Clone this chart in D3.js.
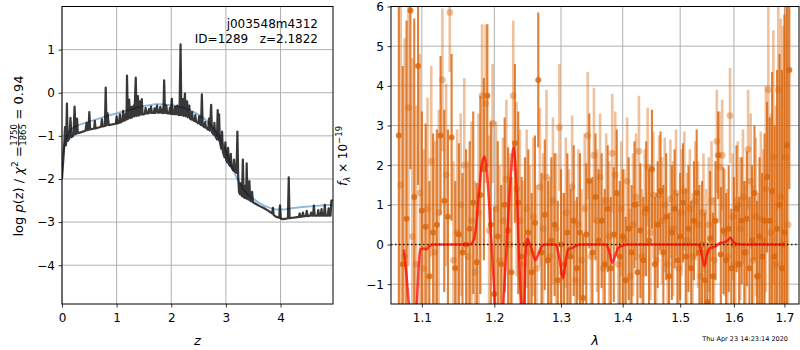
<!DOCTYPE html>
<html>
<head>
<meta charset="utf-8">
<script src="https://cdn.jsdelivr.net/npm/d3@7"></script>
<style>
  body { margin: 0; background: #fff; }
  svg text { font-family: "DejaVu Sans", sans-serif; }
</style>
</head>
<body>
<svg id="fig" width="800" height="350"></svg>
<script>
// ---------- redshift probability: [z, log p(z)] ----------
const pzCurve = [[0.00,-2.00],[0.02,-1.62],[0.035,-1.35],[0.055,-0.80],[0.07,-1.22],[0.075,-1.18],[0.09,-0.25],[0.105,-1.12],[0.135,-1.06],[0.155,-0.58],[0.175,-1.03],[0.21,-0.99],[0.23,-0.32],[0.25,-0.96],[0.26,-0.95],[0.275,-0.60],[0.29,-0.94],[0.34,-0.92],[0.43,-0.88],[0.45,-0.70],[0.47,-0.87],[0.485,-0.86],[0.50,-0.45],[0.515,-0.85],[0.59,-0.83],[0.60,-0.65],[0.615,-0.83],[0.715,-0.79],[0.73,-0.62],[0.745,-0.78],[0.785,-0.77],[0.80,0.12],[0.815,-0.76],[0.835,-0.48],[0.855,-0.75],[0.985,-0.72],[1.00,-0.55],[1.015,-0.71],[1.045,-0.70],[1.06,-0.50],[1.075,-0.69],[1.105,-0.66],[1.12,-0.42],[1.135,-0.65],[1.155,-0.64],[1.17,-0.48],[1.18,-0.62],[1.19,0.40],[1.205,-0.61],[1.23,-0.16],[1.245,-0.59],[1.255,-0.58],[1.27,-0.33],[1.285,-0.57],[1.31,-0.30],[1.325,-0.55],[1.35,0.35],[1.365,-0.54],[1.39,-0.08],[1.405,-0.53],[1.43,-0.20],[1.445,-0.51],[1.46,-0.15],[1.475,-0.50],[1.50,-0.50],[1.515,-0.49],[1.53,-0.35],[1.545,-0.48],[1.575,-0.48],[1.59,-0.38],[1.605,-0.47],[1.63,-0.32],[1.645,-0.47],[1.68,-0.47],[1.695,-0.36],[1.71,-0.47],[1.74,-0.30],[1.755,-0.46],[1.785,-0.46],[1.80,-0.33],[1.815,-0.46],[1.835,-0.47],[1.85,-0.36],[1.855,-0.47],[1.87,0.29],[1.885,-0.47],[1.91,-0.30],[1.925,-0.48],[1.96,-0.48],[1.975,-0.35],[1.99,-0.49],[2.01,-0.14],[2.025,-0.49],[2.05,-0.50],[2.07,-0.32],[2.085,-0.50],[2.11,-0.30],[2.125,-0.51],[2.15,-0.52],[2.17,1.12],[2.185,-0.52],[2.21,-0.15],[2.225,-0.54],[2.25,-0.02],[2.265,-0.55],[2.29,-0.20],[2.305,-0.57],[2.33,-0.30],[2.345,-0.60],[2.365,-0.62],[2.38,-0.45],[2.395,-0.63],[2.425,-0.66],[2.44,-0.52],[2.455,-0.67],[2.495,-0.71],[2.51,-0.55],[2.525,-0.72],[2.545,-0.75],[2.56,-0.04],[2.575,-0.76],[2.605,-0.80],[2.62,-0.68],[2.635,-0.81],[2.675,-0.86],[2.69,-0.60],[2.705,-0.88],[2.73,-0.28],[2.745,-0.92],[2.775,-0.97],[2.79,-0.70],[2.805,-1.00],[2.835,-1.08],[2.85,-0.40],[2.865,-1.10],[2.875,-0.50],[2.89,-1.15],[2.915,-1.30],[2.93,-0.90],[2.945,-1.38],[2.975,-1.50],[2.99,-1.15],[3.005,-1.55],[3.025,-1.62],[3.04,-1.28],[3.055,-1.66],[3.075,-1.70],[3.09,-1.42],[3.105,-1.74],[3.135,-1.80],[3.15,-1.55],[3.165,-1.82],[3.195,-1.86],[3.21,-0.90],[3.225,-1.95],[3.24,-2.30],[3.255,-2.35],[3.27,-2.10],[3.285,-2.38],[3.295,-2.40],[3.31,-1.55],[3.325,-2.42],[3.345,-2.44],[3.36,-2.15],[3.37,-2.45],[3.38,-1.64],[3.395,-2.46],[3.415,-2.48],[3.43,-2.05],[3.445,-2.50],[3.465,-2.52],[3.48,-2.30],[3.495,-2.54],[3.55,-2.58],[3.62,-2.63],[3.70,-2.68],[3.78,-2.74],[3.845,-2.80],[3.86,-2.67],[3.875,-2.84],[3.92,-2.88],[3.975,-2.90],[3.99,-2.61],[4.005,-2.92],[4.05,-2.93],[4.10,-2.92],[4.135,-2.91],[4.15,-1.96],[4.165,-2.91],[4.22,-2.90],[4.28,-2.89],[4.335,-2.88],[4.35,-2.80],[4.365,-2.88],[4.395,-2.87],[4.41,-2.78],[4.425,-2.87],[4.465,-2.86],[4.48,-2.74],[4.495,-2.86],[4.545,-2.85],[4.56,-2.78],[4.575,-2.85],[4.595,-2.85],[4.61,-2.62],[4.625,-2.85],[4.675,-2.85],[4.69,-2.72],[4.705,-2.85],[4.735,-2.85],[4.75,-2.70],[4.765,-2.85],[4.795,-2.85],[4.81,-2.60],[4.825,-2.85],[4.865,-2.85],[4.88,-2.68],[4.895,-2.85],[4.915,-2.85],[4.93,-2.50],[4.96,-2.50]];

// smooth template-averaged curve
const smoothZ = [0.00,0.03,0.06,0.10,0.15,0.20,0.30,0.40,0.50,0.60,0.70,0.80,0.90,1.00,1.10,1.20,1.30,1.40,1.50,1.60,1.70,1.80,1.90,2.00,2.10,2.20,2.30,2.40,2.50,2.60,2.70,2.80,2.90,3.00,3.10,3.20,3.30,3.40,3.50,3.60,3.70,3.80,3.90,4.00,4.10,4.20,4.40,4.60,4.80,4.96];
const smoothLog = [-1.55,-1.30,-1.12,-0.98,-0.88,-0.82,-0.75,-0.71,-0.67,-0.63,-0.59,-0.55,-0.51,-0.48,-0.44,-0.41,-0.37,-0.34,-0.31,-0.29,-0.27,-0.27,-0.28,-0.29,-0.31,-0.34,-0.38,-0.44,-0.51,-0.60,-0.72,-0.87,-1.08,-1.35,-1.70,-1.98,-2.20,-2.36,-2.46,-2.55,-2.62,-2.67,-2.70,-2.71,-2.70,-2.68,-2.65,-2.63,-2.61,-2.60];

// ---------- spectrum, first orientation ----------
const waveA = [1.070,1.075,1.080,1.085,1.090,1.095,1.100,1.105,1.110,1.115,1.120,1.125,1.130,1.135,1.140,1.145,1.150,1.155,1.160,1.165,1.170,1.175,1.180,1.185,1.190,1.195,1.200,1.205,1.210,1.215,1.220,1.225,1.230,1.235,1.240,1.245,1.250,1.255,1.260,1.265,1.270,1.275,1.280,1.285,1.290,1.295,1.300,1.305,1.310,1.315,1.320,1.325,1.330,1.335,1.340,1.345,1.350,1.355,1.360,1.365,1.370,1.375,1.380,1.385,1.390,1.395,1.400,1.405,1.410,1.415,1.420,1.425,1.430,1.435,1.440,1.445,1.450,1.455,1.460,1.465,1.470,1.475,1.480,1.485,1.490,1.495,1.500,1.505,1.510,1.515,1.520,1.525,1.530,1.535,1.540,1.545,1.550,1.555,1.560,1.565,1.570,1.575,1.580,1.585,1.590,1.595,1.600,1.605,1.610,1.615,1.620,1.625,1.630,1.635,1.640,1.645,1.650,1.655,1.660,1.665,1.670,1.675,1.680,1.685,1.690,1.695,1.700,1.705,1.710];
const fluxA = [2.75,-0.5,0.65,5.9,1.2,4.5,0.85,0.45,-0.8,0.3,
  0.5,2.75,1.1,0.7,2.7,-0.6,0.25,-0.2,0.0,0.4,
  1.05,-0.45,1.25,1.9,3.75,0.5,-1.25,0.2,-0.5,1.0,
  0.35,-0.7,2.55,1.05,-0.3,0.0,0.3,-0.7,0.55,4.15,
  -0.2,0.75,-0.4,0.1,0.5,-0.9,0.0,-0.5,0.3,-0.3,
  0.6,-0.6,0.3,-1.35,0.25,1.6,-0.2,1.2,0.1,0.6,
  -0.5,0.9,-0.6,0.25,1.3,-0.3,0.2,-0.9,0.4,-0.2,
  1.0,-0.7,0.35,-0.4,0.9,0.1,1.9,-0.5,0.5,1.35,
  -0.2,0.7,-0.8,0.3,0.9,-0.4,0.2,1.05,-0.3,0.4,
  -0.6,0.6,1.3,-0.2,0.0,-0.9,-1.45,0.15,-0.8,0.6,
  2.25,-0.25,0.35,-0.4,0.4,-0.6,0.0,0.9,-0.5,0.6,
  -0.2,0.65,-0.6,0.1,1.3,-0.8,0.2,-0.3,0.6,1.7,
  0.6,1.35,-0.3,0.4,1.0,-0.6,0.3,2.5,4.4];
const errA = [6,5,5,4,4.5,3,2.5,2.6,2.4,2.5,
  2.4,2,2.3,2.2,2.1,2.2,2.3,2.0,2.4,2.2,
  2.3,2.0,2.5,2.3,1.8,2.6,2.2,2.4,2.0,2.2,
  2.1,2.4,2.0,2.3,2.0,2.2,2.1,2.0,2.2,1.7,
  2.0,1.9,2.0,2.1,1.8,2.0,1.9,1.8,2.0,1.7,
  1.9,1.8,2.0,1.6,1.8,1.7,1.9,1.6,1.8,1.7,
  1.9,1.6,1.8,1.7,1.6,1.9,1.7,1.6,1.8,1.7,
  1.6,1.8,1.7,1.6,1.7,1.8,1.5,1.7,1.6,1.5,
  1.7,1.6,1.6,1.7,1.5,1.7,1.6,1.5,1.7,1.6,
  1.7,1.5,1.6,1.7,1.6,1.7,1.5,1.7,1.6,1.5,
  1.1,1.7,1.6,1.7,1.6,1.5,1.7,1.6,1.7,1.6,
  1.8,1.7,1.8,1.9,1.7,1.9,2.0,2.1,2.2,1.9,
  2.6,3.0,3.3,4.0,3.8,5.0,5.5,4.5,3.0];

// ---------- spectrum, second orientation ----------
const waveB = [1.0725,1.0775,1.0825,1.0875,1.0925,1.0975,1.1025,1.1075,1.1125,1.1175,1.1225,1.1275,1.1325,1.1375,1.1425,1.1475,1.1525,1.1575,1.1625,1.1675,1.1725,1.1775,1.1825,1.1875,1.1925,1.1975,1.2025,1.2075,1.2125,1.2175,1.2225,1.2275,1.2325,1.2375,1.2425,1.2475,1.2525,1.2575,1.2625,1.2675,1.2725,1.2775,1.2825,1.2875,1.2925,1.2975,1.3025,1.3075,1.3125,1.3175,1.3225,1.3275,1.3325,1.3375,1.3425,1.3475,1.3525,1.3575,1.3625,1.3675,1.3725,1.3775,1.3825,1.3875,1.3925,1.3975,1.4025,1.4075,1.4125,1.4175,1.4225,1.4275,1.4325,1.4375,1.4425,1.4475,1.4525,1.4575,1.4625,1.4675,1.4725,1.4775,1.4825,1.4875,1.4925,1.4975,1.5025,1.5075,1.5125,1.5175,1.5225,1.5275,1.5325,1.5375,1.5425,1.5475,1.5525,1.5575,1.5625,1.5675,1.5725,1.5775,1.5825,1.5875,1.5925,1.5975,1.6025,1.6075,1.6125,1.6175,1.6225,1.6275,1.6325,1.6375,1.6425,1.6475,1.6525,1.6575,1.6625,1.6675,1.6725,1.6775,1.6825,1.6875,1.6925,1.6975,1.7025,1.7075];
const fluxB = [1.5,-0.3,3.45,0.2,-0.5,1.3,-0.6,0.9,2.1,-0.2,
  0.8,4.15,1.75,5.85,-0.4,0.3,1.0,2.0,-0.3,0.6,
  -0.7,0.8,3.75,3.55,0.35,3.05,0.9,-0.4,0.6,1.65,
  0.0,3.75,1.4,0.6,-0.5,0.9,-0.2,0.7,-0.6,1.45,
  0.4,1.7,-0.3,1.1,0.4,2.95,-0.7,0.8,-0.2,1.45,
  -0.9,0.5,-0.4,0.9,2.75,-0.3,2.25,0.6,1.7,-0.6,
  1.1,0.2,2.3,1.75,-0.5,0.9,0.1,1.6,-0.8,0.5,
  1.2,2.35,-0.3,0.8,1.95,0.3,1.25,-0.4,1.25,0.6,
  1.0,-0.5,1.15,0.4,1.3,-0.6,0.8,1.35,0.1,0.9,
  -0.3,1.1,0.5,-0.8,0.8,-0.2,0.5,1.1,-0.4,2.6,
  1.95,2.25,0.3,-0.3,3.25,0.7,-0.5,1.0,0.4,1.2,
  -0.2,2.4,1.6,-0.4,0.7,-0.8,0.65,0.1,1.4,3.9,
  0.3,2.2,-0.5,3.9,1.2,0.0,2.2,0.5];
const errB = [6,5.5,4,4.5,4,3.5,3,2.8,2.4,2.8,
  2.6,1.8,2.3,1.5,2.5,2.6,2.3,2.2,2.4,2.5,
  2.3,2.5,1.8,2.0,2.4,1.5,2.2,2.4,2.1,2.0,
  2.3,1.9,2.2,2.3,2.1,2.0,2.2,2.0,2.1,2.0,
  1.9,2.2,2.0,2.1,1.9,1.6,2.0,1.9,2.1,1.8,
  2.0,1.9,1.8,1.9,1.6,1.9,1.7,1.8,1.6,1.8,
  1.7,1.9,1.5,1.6,1.8,1.7,1.8,1.6,1.7,1.8,
  1.6,1.4,1.7,1.6,1.5,1.7,1.6,1.7,1.5,1.6,
  1.7,1.6,1.5,1.7,1.6,1.5,1.6,1.5,1.7,1.5,
  1.6,1.5,1.6,1.7,1.5,1.6,1.7,1.5,1.6,1.3,
  1.4,1.4,1.6,1.7,1.2,1.6,1.7,1.6,1.8,1.7,
  1.8,1.5,1.7,1.9,2.0,2.1,2.2,2.3,2.6,2.2,
  3.0,3.2,4.0,3.0,4.5,5.5,5.0,6.0];

// ---------- best-fit line model ----------
const modelWave = [1.0765,1.080,1.0835,1.088,1.093,1.096,1.098,1.103,1.106,1.110,1.115,1.165,1.169,1.174,1.178,1.182,1.186,1.189,1.193,1.197,1.2015,1.206,1.210,1.213,1.218,1.223,1.228,1.232,1.236,1.240,1.243,1.2455,1.248,1.252,1.2565,1.2605,1.265,1.270,1.275,1.292,1.297,1.303,1.308,1.312,1.316,1.322,1.330,1.372,1.377,1.3826,1.388,1.393,1.400,1.410,1.533,1.538,1.5443,1.549,1.554,1.560,1.566,1.572,1.582,1.588,1.5935,1.598,1.605,1.615,1.701];
const modelFlux = [-0.13,-0.8,-1.6,-2.4,-1.6,-0.5,-0.12,-0.1,-0.12,-0.04,0.0,0.0,0.05,0.45,1.3,2.0,2.22,1.9,0.9,-0.3,-1.6,-2.4,-2.3,-1.5,0.0,1.5,2.45,1.6,-0.2,-1.6,-1.8,-0.4,0.15,0.02,-0.2,-0.4,-0.25,-0.05,0.0,0.0,-0.3,-0.85,-0.35,-0.1,-0.1,-0.05,0.0,0.0,-0.15,-0.46,-0.25,-0.08,-0.03,0.0,0.0,-0.15,-0.55,-0.25,-0.1,-0.07,-0.04,0.03,0.06,0.1,0.17,0.08,0.01,0.0,0.0];

// ---------- tick values and text ----------
const zTicks = [0,1,2,3,4];
const logTicks = [-4,-3,-2,-1,0,1];
const waveTicks = [1.1,1.2,1.3,1.4,1.5,1.6,1.7];
const fluxTicks = [-1,0,1,2,3,4,5,6];
const titleLines = ["j003548m4312", "ID=1289   z=2.1822"];
const stamp = "Thu Apr 23 14:23:14 2020";

// ---------- layout ----------
const svg = d3.select("#fig");
const PL = {x0: 62, x1: 333, y0: 6.5, y1: 304};
const PR = {x0: 391, x1: 799, y0: 6.5, y1: 304};

const xZ = d3.scaleLinear().domain([0, 4.96]).range([PL.x0, PL.x1]);
const yP = d3.scaleLinear().domain([-4.9, 2.0]).range([PL.y1, PL.y0]);
const xW = d3.scaleLog().domain([1.06, 1.73]).range([PR.x0, PR.x1]);
const yF = d3.scaleLinear().domain([-1.5, 6]).range([PR.y1, PR.y0]);

const GRID = "#b0b0b0";
const ORANGE = "#d9650b";

const defs = svg.append("defs");
function clip(id, p) {
  defs.append("clipPath").attr("id", id).append("rect")
    .attr("x", p.x0).attr("y", p.y0).attr("width", p.x1 - p.x0).attr("height", p.y1 - p.y0);
  return `url(#${id})`;
}
const clipL = clip("clipL", PL);
const clipR = clip("clipR", PR);

function grid(p, xs, xv, ys, yv) {
  const g = svg.append("g").attr("stroke", GRID).attr("stroke-width", 1);
  g.selectAll(".gx").data(xv).join("line")
    .attr("x1", d => xs(d)).attr("x2", d => xs(d)).attr("y1", p.y0).attr("y2", p.y1);
  g.selectAll(".gy").data(yv).join("line")
    .attr("y1", d => ys(d)).attr("y2", d => ys(d)).attr("x1", p.x0).attr("x2", p.x1);
}

function axes(p, xs, xv, xfmt, ys, yv, yfmt) {
  const ax = svg.append("g").attr("transform", `translate(0,${p.y1})`)
    .call(d3.axisBottom(xs).tickValues(xv).tickFormat(xfmt).tickSize(3.5).tickPadding(5.5));
  const ay = svg.append("g").attr("transform", `translate(${p.x0},0)`)
    .call(d3.axisLeft(ys).tickValues(yv).tickFormat(yfmt).tickSize(3.5).tickPadding(3.5));
  [ax, ay].forEach(a => {
    a.select(".domain").remove();
    a.selectAll("line").attr("stroke", "#000").attr("stroke-width", 0.8);
    a.selectAll("text").attr("fill", "#000").style("font-size", "12px")
      .style("font-family", "'DejaVu Sans', sans-serif");
  });
  svg.append("rect").attr("x", p.x0).attr("y", p.y0)
    .attr("width", p.x1 - p.x0).attr("height", p.y1 - p.y0)
    .attr("fill", "none").attr("stroke", "#000").attr("stroke-width", 1);
}

// ===== left panel: log p(z) =====
grid(PL, xZ, zTicks, yP, logTicks);
const gL = svg.append("g").attr("clip-path", clipL);
const lineZ = d3.line().x(d => xZ(d[0])).y(d => yP(d[1]));
gL.append("path").datum(smoothZ.map((z, i) => [z, smoothLog[i]]))
  .attr("d", lineZ).attr("fill", "none")
  .attr("stroke", "#4a8bc2").attr("stroke-opacity", 0.6).attr("stroke-width", 2);
gL.append("path").datum(pzCurve)
  .attr("d", lineZ).attr("fill", "none")
  .attr("stroke", "#000").attr("stroke-opacity", 0.78).attr("stroke-width", 2.2)
  .attr("stroke-linejoin", "round");
axes(PL, xZ, zTicks, d3.format("d"), yP, logTicks, d3.format("d"));

titleLines.forEach((t, i) => {
  svg.append("text").attr("x", 318).attr("y", 28 + i * 15)
    .attr("text-anchor", "end").style("font-size", "12px")
    .style("white-space", "pre").attr("xml:space", "preserve").text(t);
});

svg.append("text").attr("x", (PL.x0 + PL.x1) / 2).attr("y", 345)
  .attr("text-anchor", "middle").style("font-size", "13px").style("font-style", "italic").text("z");

// left y label with a stacked fraction
(function () {
  const g = svg.append("g").attr("transform", "translate(23,156) rotate(-90)");
  const fs = 13, fsSmall = 8.5;
  const a = g.append("text").style("font-size", fs + "px");
  a.append("tspan").text("log ");
  a.append("tspan").style("font-style", "italic").text("p");
  a.append("tspan").text("(z) / ");
  a.append("tspan").style("font-style", "italic").text("χ");
  a.append("tspan").attr("dy", -5).style("font-size", "9px").text("2");
  a.append("tspan").attr("dy", 5).text(" = ");
  const wA = a.node().getComputedTextLength();
  const num = g.append("text").style("font-size", fsSmall + "px").attr("text-anchor", "middle").text("1750");
  const den = g.append("text").style("font-size", fsSmall + "px").attr("text-anchor", "middle").text("1865");
  const wF = Math.max(num.node().getComputedTextLength(), den.node().getComputedTextLength()) + 1;
  const c = g.append("text").style("font-size", fs + "px")
    .style("white-space", "pre").attr("xml:space", "preserve").text(" = 0.94");
  const wC = c.node().getComputedTextLength();
  const total = wA + wF + wC;
  const x0 = -total / 2;
  a.attr("x", x0);
  const fx = x0 + wA + wF / 2;
  const barY = -4.5;
  num.attr("x", fx).attr("y", barY - 1.5);
  den.attr("x", fx).attr("y", barY + 7.5);
  g.append("line").attr("x1", fx - wF / 2).attr("x2", fx + wF / 2)
    .attr("y1", barY).attr("y2", barY).attr("stroke", "#000").attr("stroke-width", 0.7);
  c.attr("x", x0 + wA + wF);
})();

// ===== right panel: spectrum =====
grid(PR, xW, waveTicks, yF, fluxTicks);
const gR = svg.append("g").attr("clip-path", clipR);

function errSeries(wave, flux, err, opacity, width, r) {
  const g = gR.append("g").attr("fill", ORANGE).attr("stroke", ORANGE);
  g.selectAll("line").data(wave).join("line")
    .attr("x1", d => xW(d)).attr("x2", d => xW(d))
    .attr("y1", (d, i) => yF(flux[i] - err[i])).attr("y2", (d, i) => yF(flux[i] + err[i]))
    .attr("stroke-width", width).attr("stroke-opacity", opacity);
  g.selectAll("circle").data(wave).join("circle")
    .attr("cx", d => xW(d)).attr("cy", (d, i) => yF(flux[i])).attr("r", r)
    .attr("stroke", "none").attr("fill-opacity", opacity);
}
errSeries(waveB, fluxB, errB, 0.4, 2.6, 3.4);
errSeries(waveA, fluxA, errA, 0.82, 2.1, 3);

gR.append("line").attr("x1", PR.x0).attr("x2", PR.x1).attr("y1", yF(0)).attr("y2", yF(0))
  .attr("stroke", "#000").attr("stroke-width", 1.5).attr("stroke-dasharray", "1.5,2.5").attr("stroke-opacity", 0.85);

gR.append("path").datum(modelWave.map((w, i) => [w, modelFlux[i]]))
  .attr("d", d3.line().x(d => xW(d[0])).y(d => yF(d[1])).curve(d3.curveMonotoneX))
  .attr("fill", "none").attr("stroke", "red").attr("stroke-opacity", 0.72).attr("stroke-width", 2.5);

axes(PR, xW, waveTicks, d3.format(".1f"), yF, fluxTicks, d3.format("d"));

svg.append("text").attr("x", (PR.x0 + PR.x1) / 2).attr("y", 345)
  .attr("text-anchor", "middle").style("font-size", "13px").style("font-style", "italic").text("λ");

// right y label: f_λ × 10^-19
(function () {
  const t = svg.append("text").attr("transform", "translate(347,156) rotate(-90)")
    .attr("text-anchor", "middle").style("font-size", "12px");
  t.append("tspan").style("font-style", "italic").text("f");
  t.append("tspan").attr("dy", 3).style("font-size", "8.5px").style("font-style", "italic").text("λ");
  t.append("tspan").attr("dy", -3).text(" × 10");
  t.append("tspan").attr("dy", -5).style("font-size", "8.5px").text("−19");
})();

svg.append("text").attr("x", 788).attr("y", 341).attr("text-anchor", "end")
  .style("font-size", "6.5px").text(stamp);
</script>
</body>
</html>
